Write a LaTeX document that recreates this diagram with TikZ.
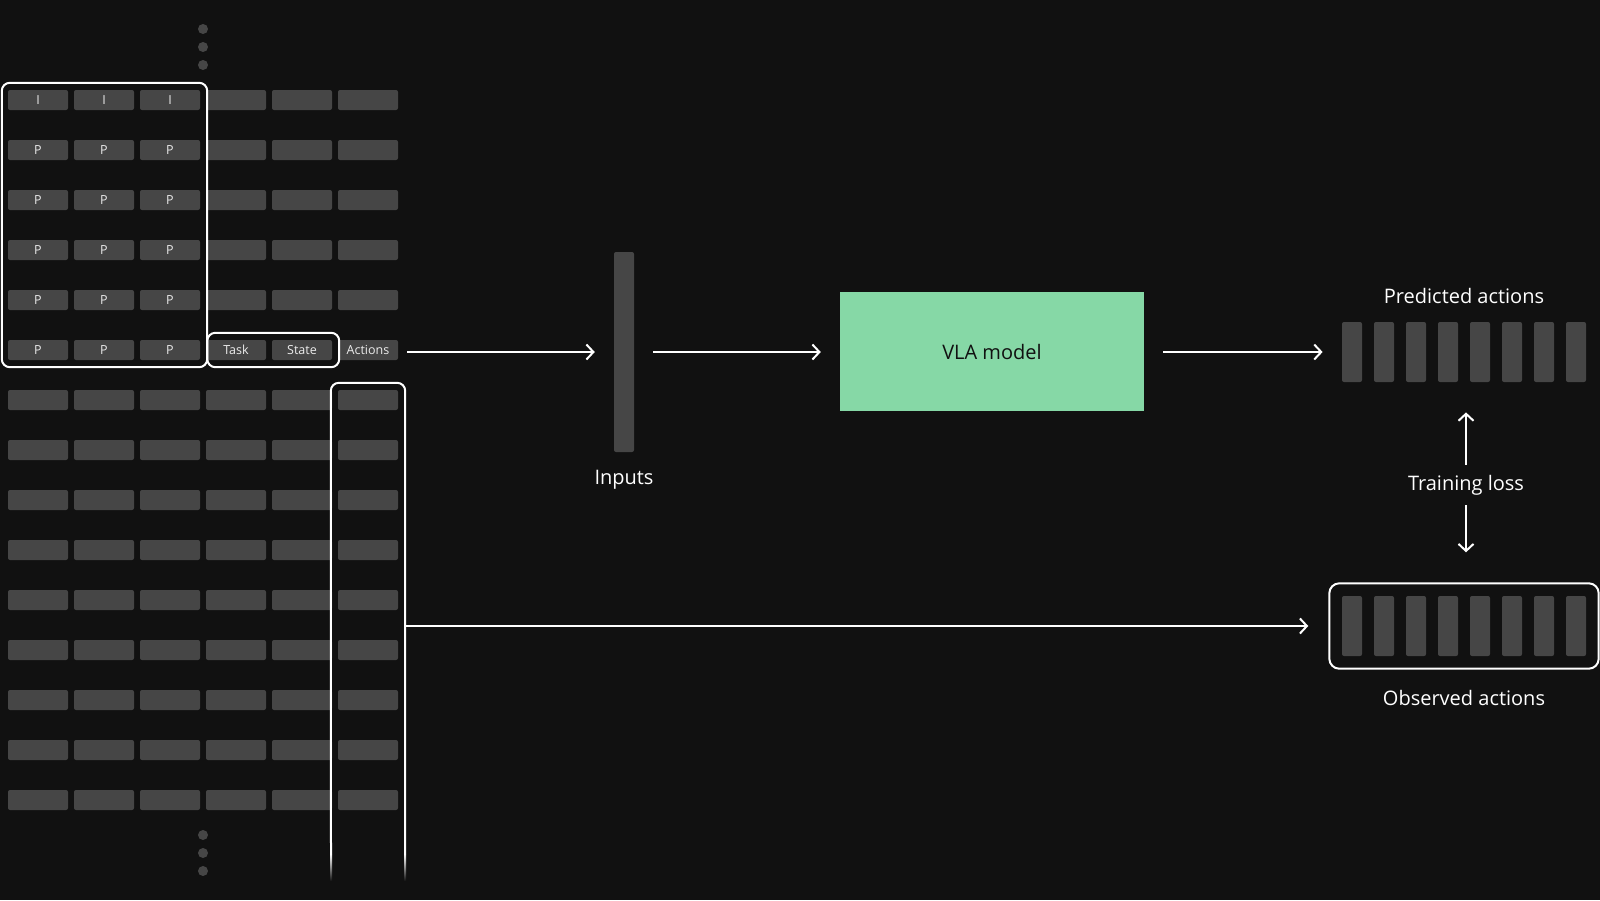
\documentclass[tikz,border=0pt]{standalone}
\usepackage{fontspec}
\setmainfont{Open Sans}
\usetikzlibrary{positioning}
\usetikzlibrary{fit}
\usetikzlibrary{calc}
\usetikzlibrary{arrows.meta}

\definecolor{bgdark}{HTML}{111111}
\definecolor{cellgray}{HTML}{464646}
\definecolor{vlagreen}{HTML}{86D8A6}

\tikzset{
  tok/.style={fill=cellgray, rounded corners=2pt, minimum width=60pt, minimum height=20pt, inner sep=0pt},
  toklbl/.style={text=white!92!black, inner sep=0pt, font=\fontsize{12.5}{12.5}\selectfont},
  actbar/.style={fill=cellgray, rounded corners=2pt, minimum width=20pt, minimum height=60pt, inner sep=0pt},
  selbox/.style={draw=white, line width=2pt, rounded corners=8pt},
  flow/.style={draw=white, line width=2pt, -{Straight Barb[length=7pt,width=15pt]}},
  lbl/.style={text=white, inner sep=0pt, font=\fontsize{20}{20}\selectfont},
  dot/.style={circle, fill=cellgray, minimum size=10pt, inner sep=0pt},
}

\begin{document}
\begin{tikzpicture}[x=1pt, y=-1pt]
  \fill[bgdark] (0,0) rectangle (1600,900);

  % token grid
  \foreach \r in {1,...,15}
    \foreach \c in {1,...,6}
      \node[tok] (t-\r-\c) at ({38+66*(\c-1)}, {100+50*(\r-1)}) {};
  \foreach \c in {1,2,3}
    \node[toklbl] (i-\c) at (t-1-\c) {I};
  \foreach \r in {2,...,6}
    \foreach \c in {1,2,3}
      \node[toklbl] (p-\r-\c) at (t-\r-\c) {P};
  \node[toklbl] (task) at (t-6-4) {Task};
  \node[toklbl] (state) at (t-6-5) {State};
  \node[toklbl] (actions) at (t-6-6) {Actions};

  % dots above and below
  \foreach \y [count=\i] in {29,47,65}
    \node[dot] (dt-\i) at (203,\y) {};
  \foreach \y [count=\i] in {835,853,871}
    \node[dot] (db-\i) at (203,\y) {};

  % selections
  \draw[selbox] ($(t-1-1.north west)+(-6,-7)$) rectangle ($(t-6-3.south east)+(7,7)$);
  \draw[selbox] ($(t-6-4.north west)+(1.5,-7)$) rectangle ($(t-6-5.south east)+(7,7)$);
  \coordinate (ac-nw) at ($(t-7-6.north west)+(-7,-7)$);
  \coordinate (ac-ne) at ($(t-7-6.north east)+(7,-7)$);
  \coordinate (ac-sw) at (331,854);
  \coordinate (ac-se) at (405,854);
  \draw[selbox] (ac-sw) -- (ac-nw) -- (ac-ne) -- (ac-se);
  \shade[top color=white, bottom color=bgdark] (330,854) rectangle (332,881);
  \shade[top color=white, bottom color=bgdark] (404,854) rectangle (406,881);

  % inputs and model
  \node[tok, minimum width=20pt, minimum height=200pt] (inputs) at (624,352) {};
  \node[lbl, below=18pt of inputs] (inputs-lbl) {Inputs};
  \node[fill=vlagreen, minimum width=304pt, minimum height=119pt, text=bgdark,
        font=\fontsize{20}{20}\selectfont] (vla) at (992,351.5) {VLA model};

  % predicted actions
  \foreach \i in {1,...,8}
    \node[actbar] (pa-\i) at ({1352+32*(\i-1)},352) {};
  \node[fit=(pa-1)(pa-8), inner sep=0pt] (predrow) {};
  \node[lbl, above=18pt of predrow] (pred-lbl) {Predicted actions};

  % observed actions
  \foreach \i in {1,...,8}
    \node[actbar] (oa-\i) at ({1352+32*(\i-1)},626) {};
  \node[selbox, rounded corners=10pt, fit=(oa-1)(oa-8), inner sep=12.5pt] (obsbox) {};
  \node[lbl, below=20pt of obsbox] (obs-lbl) {Observed actions};

  \node[lbl, inner ysep=10pt, anchor=base] (loss) at (1466,490) {Training loss};

  % connectors
  \draw[flow, shorten <=9pt, shorten >=19pt] (t-6-6.east |- inputs.west) -- (inputs.west);
  \draw[flow, shorten <=19pt, shorten >=19pt] (inputs.east) -- (inputs.east -| vla.west);
  \draw[flow, shorten <=19pt, shorten >=19pt] (vla.east |- inputs.east) -- (inputs.east -| predrow.west);
  \draw[flow, shorten >=30pt] (loss.north) -- (loss.north |- predrow.south);
  \draw[flow, shorten >=30pt] (loss.south) -- (loss.south |- obsbox.north);
  \coordinate (colout) at (405,626);
  \draw[flow, shorten >=20pt] (colout) -- (colout -| obsbox.west);
\end{tikzpicture}
\end{document}
